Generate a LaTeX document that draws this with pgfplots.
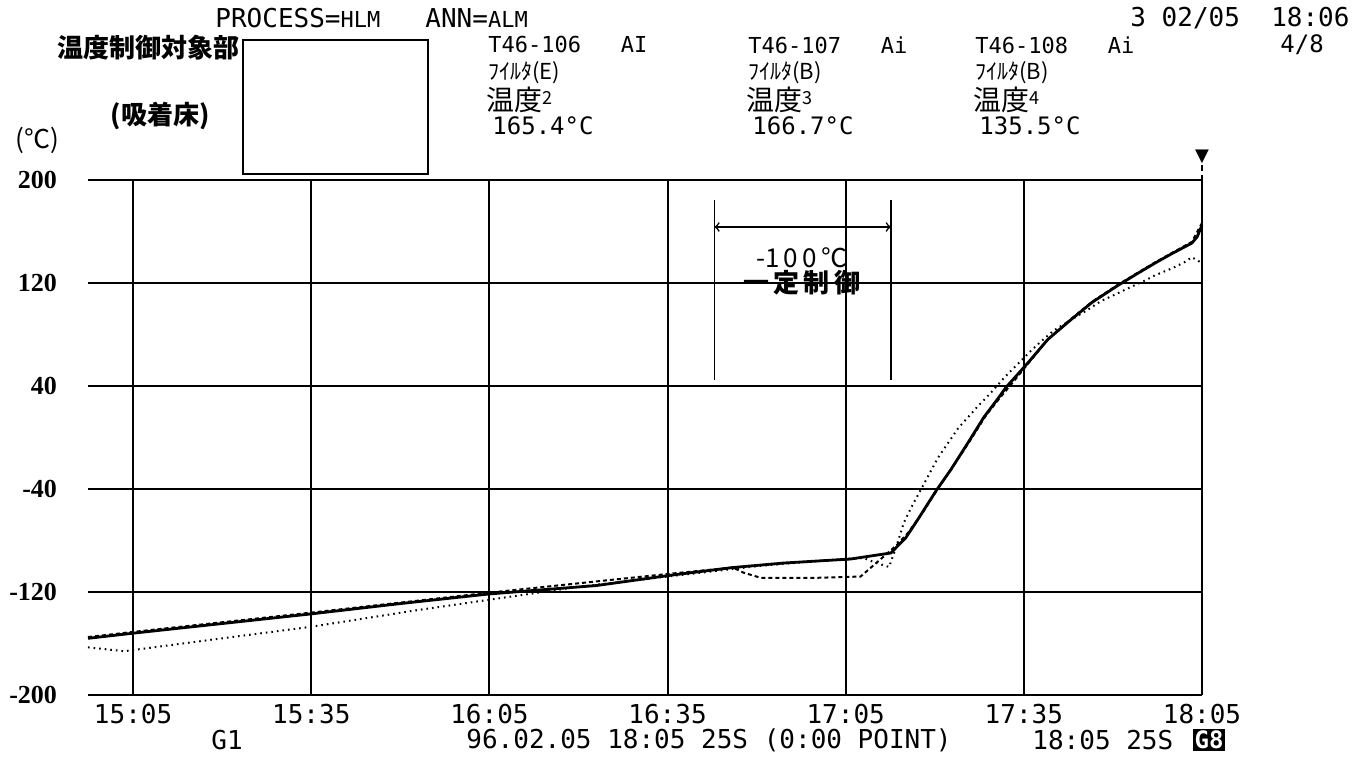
\documentclass[border=0pt]{standalone}
\usepackage{pgfplots}
\pgfplotsset{compat=1.18}
\usepackage{fontspec}
\setmainfont{Liberation Serif}
\newfontfamily\cjk{Noto Sans CJK JP}
\newfontfamily\dm{DejaVu Sans Mono}
\newfontfamily\djv{DejaVu Sans}
\begin{document}
\begin{tikzpicture}
\path[use as bounding box] (0,0) rectangle (684.5pt,384.5pt);
\begin{axis}[at={(44pt,37pt)}, anchor=south west, scale only axis,
  width=557pt, height=257.5pt,
  xmin=-7.6, xmax=180, ymin=-200, ymax=200,
  axis line style={draw=none},
  xtick={0,30,60,90,120,150,180},
  xticklabels={15:05,15:35,16:05,16:35,17:05,17:35,18:05},
  ytick={-200,-120,-40,40,120,200},
  yticklabels={-200,-120,-40,40,120,200},
  major tick length=0pt,
  xmajorgrids, ymajorgrids,
  grid style={black, line width=1pt},
  yticklabel style={font=\fontsize{13}{13}\selectfont\bfseries, xshift=-12pt},
  xticklabel style={font=\dm\fontsize{13}{13}\selectfont, yshift=-1pt},
  clip=false,
]
% temp2 (solid)
\addplot[black, line width=1.4pt] coordinates {
(-7.6,-156) (0,-152) (15,-144.5) (30,-137) (45,-129) (60,-121.5) (78,-115)
(90.5,-107) (101,-101) (109.6,-97.5) (120.8,-94.4) (127.6,-89.7) (130.1,-78)
(132.1,-64) (135.2,-41.5) (137.7,-25) (140.6,-4) (143.3,16) (145.6,30) (147,39)
(150.8,58.6) (154,76) (157.8,91) (161.5,105) (165.8,118) (169,127) (172.1,135.5)
(175,143) (178.3,151) (179.2,156) (180,165)
};
% temp3 (dashed)
\addplot[black, line width=1pt, dash pattern=on 2pt off 1.5pt] coordinates {
(-7.6,-155) (0,-151) (30,-136) (60,-120.5) (90,-106) (101,-101) (102.8,-105)
(105.7,-109) (115,-109) (122.5,-108) (124.5,-100) (126.5,-92) (128.5,-84)
(130.5,-74) (133,-58) (135.5,-40) (138,-23) (141,-2) (143.6,17) (146,31) (148,42)
(151,59) (154,76) (157.8,91.5) (161.5,105.5) (165.8,118.5) (169,127.5) (172.1,136)
(175,143.5) (178.3,152) (180,166.7)
};
% temp4 (dotted)
\addplot[black, line width=1pt, dash pattern=on 0.8pt off 2pt] coordinates {
(-7.6,-163) (-1.5,-166) (10,-159) (30,-147) (48,-134) (60,-126) (75,-116) (90,-108)
(105,-100) (115,-96) (121,-94) (123,-93.6) (124.7,-96.7) (127.3,-100.6) (128.5,-85)
(129.8,-66) (131.3,-52) (132.6,-41) (135.5,-16) (138.9,7) (142.2,24) (144.4,34.5)
(146.8,47) (150.8,65.6) (152.5,73) (155,83) (157.8,91) (160.7,99) (163,106)
(165.2,110.7) (167.6,116) (170,121) (172.1,126) (175,131.5) (177,136) (178.3,140)
(180,135.5)
};
\draw[line width=0.8pt] (axis cs:97.9,44.7) -- (axis cs:97.9,184.5);
\draw[line width=0.8pt] (axis cs:127.6,44.7) -- (axis cs:127.6,184.5);
\draw[<->, line width=0.8pt] (axis cs:97.9,163.5) -- (axis cs:127.6,163.5);
\node[font=\cjk\fontsize{13}{13}\selectfont] at (axis cs:112.6,139.4) {-1\,0\,0\,℃};
\node[font=\cjk\bfseries\fontsize{13}{13}\selectfont] at (axis cs:112.6,120) {一\,定\,制\,御};
\end{axis}
\begin{scope}[x=0.5pt, y=0.5pt]
\node[anchor=west, font=\dm\fontsize{13}{13}\selectfont, inner sep=0pt] at (215,751) {PROCESS={\fontsize{11}{11}\selectfont HLM}};
\node[anchor=west, font=\dm\fontsize{13}{13}\selectfont, inner sep=0pt] at (425,751) {ANN={\fontsize{11}{11}\selectfont ALM}};
\node[anchor=west, font=\dm\fontsize{13}{13}\selectfont, inner sep=0pt] at (1130,751) {3 02/05\ \ 18:06};
\node[anchor=west, font=\dm\fontsize{12}{12}\selectfont, inner sep=0pt] at (1280,724) {4/8};
\draw[line width=1pt] (243,729) rectangle (428,595);
\node[font=\cjk\bfseries\fontsize{13}{13}\selectfont] at (148,721) {温度制御対象部};
\node[font=\cjk\bfseries\fontsize{13}{13}\selectfont] at (160,653) {(吸着床)};
\node[font=\cjk\fontsize{13}{13}\selectfont] at (37,629) {(℃)};
% column blocks
\foreach \xx/\id/\ai/\f/\n/\v in {488/106/AI/E/2/165.4, 748/107/Ai/B/3/166.7, 975/108/Ai/B/4/135.5}{
  \node[anchor=west, font=\dm\fontsize{11}{11}\selectfont, inner sep=0pt] at (\xx,724) {T46-\id\ \ \ \ai};
  \node[anchor=west, font=\cjk\fontsize{11}{11}\selectfont, inner sep=0pt] at (\xx,696) {ﾌｲﾙﾀ(\f)};
  \node[anchor=west, font=\cjk\fontsize{14}{14}\selectfont, inner sep=0pt] at (\xx-2,669) {温度{\fontsize{9}{9}\selectfont\raisebox{3pt}{\n}}};
  \node[anchor=west, font=\dm\fontsize{12}{12}\selectfont, inner sep=0pt] at (\xx+4,643) {\v°C};
}
\node[font=\djv\fontsize{9}{9}\selectfont, inner sep=0pt] at (1202,612) {▼};
\draw[line width=0.8pt, dash pattern=on 3pt off 2pt] (1202,604) -- (1202,589);
% bottom line
\node[font=\dm\fontsize{13}{13}\selectfont, inner sep=0pt] at (227,29) {G1};
\node[anchor=west, font=\dm\fontsize{13}{13}\selectfont, inner sep=0pt] at (466,29) {96.02.05 18:05 25S (0:00 POINT)};
\node[anchor=west, font=\dm\fontsize{13}{13}\selectfont, inner sep=0pt] at (1032,29) {18:05 25S};
\node[fill=black, text=white, font=\dm\bfseries\fontsize{12}{12}\selectfont, inner sep=1pt] at (1209,29) {G8};
\end{scope}
\end{tikzpicture}
\end{document}
